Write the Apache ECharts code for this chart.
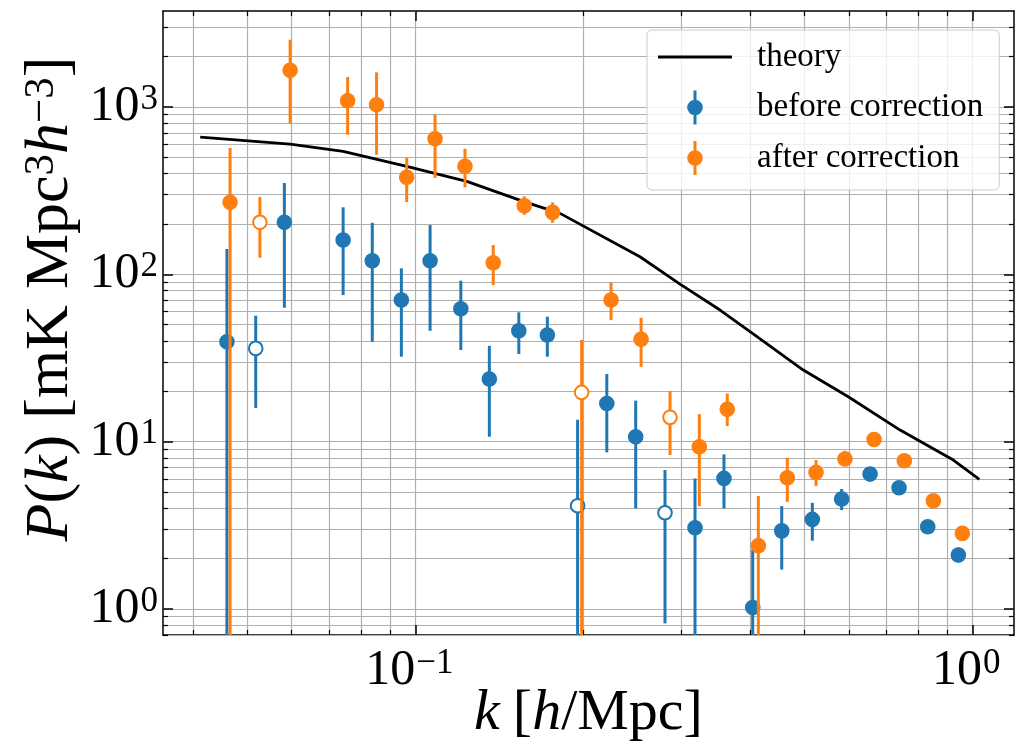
<!DOCTYPE html>
<html>
<head>
<meta charset="utf-8">
<script src="https://cdn.jsdelivr.net/npm/echarts@6/dist/echarts.min.js"></script>
<style>html,body{margin:0;padding:0;background:#fff}#c{width:1016px;height:754px}</style>
</head>
<body>
<div id="c"></div>
<script>
// ---- data (k in h/Mpc, P in mK Mpc^3 h^-3) ----
const kTheory = [0.0411, 0.0596, 0.0742, 0.0965, 0.1237, 0.1562, 0.1819, 0.2531, 0.2987, 0.3524, 0.399, 0.4972, 0.5988, 0.7418, 0.9245, 1.0294];
const pTheory = [661.7, 600.9, 543.4, 442.1, 359.7, 273.1, 231.5, 127.4, 87.5, 61.2, 45.4, 26.8, 18.55, 11.73, 7.76, 5.95];

const kBefore = [0.0459, 0.0517, 0.0582, 0.0742, 0.0837, 0.0944, 0.1063, 0.1207, 0.1358, 0.1534, 0.1726, 0.1956, 0.2207, 0.2487, 0.2807, 0.3178, 0.3582, 0.4034, 0.4548, 0.5161, 0.5826, 0.6553, 0.7386, 0.8317, 0.9438];
const pBefore = [39.5, 36.1, 204.6, 160.3, 120.6, 70.2, 120.6, 62.3, 23.7, 46.0, 43.4, 4.14, 16.9, 10.7, 3.76, 3.06, 6.03, 1.02, 2.93, 3.43, 4.54, 6.40, 5.30, 3.10, 2.10];
const pBeforeLo = [0, 15.9, 63.2, 75.2, 39.5, 32.2, 46.0, 35.3, 10.7, 33.4, 32.2, 0, 8.63, 3.99, 0.82, 0, 3.99, 0, 1.72, 2.56, 3.90, 6.0, 5.0, 2.9, 1.9];
const pBeforeHi = [141.6, 56.6, 351.4, 251.5, 203.4, 108.6, 197.1, 91.6, 37.4, 59.3, 55.8, 13.5, 25.4, 17.6, 6.77, 6.03, 8.40, 2.25, 4.12, 4.31, 5.21, 6.8, 5.6, 3.3, 2.33];
const openBefore = [0, 1, 0, 0, 0, 0, 0, 0, 0, 0, 0, 1, 0, 0, 1, 0, 0, 0, 0, 0, 0, 0, 0, 0, 0];

const kAfter = [0.0465, 0.0526, 0.0596, 0.0756, 0.0852, 0.0965, 0.1085, 0.1228, 0.1380, 0.1569, 0.1764, 0.1989, 0.2246, 0.2543, 0.2866, 0.3235, 0.3631, 0.4129, 0.4654, 0.5241, 0.5906, 0.6662, 0.7550, 0.8512, 0.9595];
const pAfter = [269.4, 204.6, 1657, 1091, 1032, 380, 646.5, 442, 117.3, 257, 234.7, 19.7, 70.2, 40.9, 13.97, 9.32, 15.6, 2.39, 6.08, 6.55, 7.87, 10.3, 7.69, 4.43, 2.83];
const pAfterLo = [0, 125.7, 794.8, 683, 518.7, 270.5, 376.4, 331, 86.3, 227, 203.4, 0, 53.3, 28.0, 8.32, 4.12, 12.4, 0, 4.37, 5.43, 7.42, 9.9, 7.4, 4.2, 2.7];
const pAfterHi = [568.8, 289.7, 2525, 1511, 1612, 495.7, 899.5, 563.4, 149.7, 292.5, 269.4, 40.5, 89.1, 55.0, 20.1, 14.6, 19.4, 4.73, 8.01, 7.76, 8.82, 10.7, 8.0, 4.6, 2.95];
const openAfter = [0, 1, 0, 0, 0, 0, 0, 0, 0, 0, 0, 1, 0, 0, 1, 0, 0, 0, 0, 0, 0, 0, 0, 0, 0];

// axis ranges and tick values
const xRange = [0.03524, 1.188];
const yRange = [0.699, 3750];
const xMajorTicks = [0.1, 1];
const yMajorTicks = [1, 10, 100, 1000];
const minorMultipliers = [2, 3, 4, 5, 6, 7, 8, 9];

// ---- build ----
const L = Math.log10;
const xMin = L(xRange[0]), xMax = L(xRange[1]);
const yMin = L(yRange[0]), yMax = L(yRange[1]);
const GRID = {left: 163, right: 2, top: 11, bottom: 119, outerBoundsMode: 'none', containLabel: false};
const gridH = 754 - GRID.top - GRID.bottom;
const gridW = 1016 - GRID.left - GRID.right;

function minorOf(lo, hi) {
  const out = [];
  for (let e = Math.floor(lo) - 1; e <= Math.ceil(hi); e++) {
    minorMultipliers.forEach(m => {
      const v = e + L(m);
      if (v > lo + 1e-6 && v < hi - 1e-6) out.push(v);
    });
  }
  return out;
}
const xMaj = xMajorTicks.map(L), yMaj = yMajorTicks.map(L);
const xMin_ = minorOf(xMin, xMax), yMin_ = minorOf(yMin, yMax);
const xAll = xMaj.concat(xMin_), yAll = yMaj.concat(yMin_);

const FONT = 'Liberation Serif';
const tickRich = {
  b: {fontFamily: FONT, fontSize: 50, lineHeight: 50, color: '#000', verticalAlign: 'bottom'},
  s: {fontFamily: FONT, fontSize: 35, lineHeight: 35, color: '#000', padding: [0, 0, 22, 1], verticalAlign: 'top'}
};
function nameRich(size, gap) {
  return {
    i: {fontFamily: FONT, fontSize: size, lineHeight: size, fontStyle: 'italic', color: '#000', verticalAlign: 'bottom'},
    n: {fontFamily: FONT, fontSize: size, lineHeight: size, color: '#000', verticalAlign: 'bottom'},
    g: {fontFamily: FONT, fontSize: size, lineHeight: size, width: gap},
    s: {fontFamily: FONT, fontSize: Math.round(size * 0.69), lineHeight: Math.round(size * 0.69), color: '#000',
        padding: [0, 0, Math.round(size * 0.41), 0], verticalAlign: 'top'}
  };
}
function powLabel(v) {
  const e = Math.round(v);
  return '{b|10}{s|' + (e < 0 ? '\u2212' + (-e) : e) + '}';
}

function baseAxis(pos, min, max, extra) {
  return Object.assign({
    type: 'value', gridIndex: 0, position: pos, min: min, max: max,
    splitLine: {show: false},
    axisLabel: {show: false},
    axisTick: {show: false},
    axisLine: {show: false, onZero: false}
  }, extra);
}
function tickSet(vals, len, color, width) {
  return {show: true, inside: true, length: len, customValues: vals, lineStyle: {color: color, width: width}};
}
const frameLine = {show: true, onZero: false, lineStyle: {color: '#000', width: 1.5}};

const xAxes = [
  baseAxis('bottom', xMin, xMax, {axisTick: tickSet(xAll, gridH, '#b0b0b0', 1.2)}),
  baseAxis('bottom', xMin, xMax, {axisTick: tickSet(xMin_, 5, '#000', 1.2)}),
  baseAxis('top', xMin, xMax, {axisTick: tickSet(xMin_, 5, '#000', 1.2)}),
  baseAxis('top', xMin, xMax, {axisLine: frameLine, axisTick: tickSet(xMaj, 10, '#000', 1.5)}),
  baseAxis('bottom', xMin, xMax, {
    axisLine: frameLine,
    axisTick: tickSet(xMaj, 10, '#000', 1.5),
    axisLabel: {show: true, customValues: xMaj, margin: 11, formatter: powLabel, rich: tickRich, padding: [0, 12, 0, 0]},
    name: '{i|k}{g|}{n|[}{i|h}{n|/Mpc]}',
    nameLocation: 'middle', nameGap: 50, nameMoveOverlap: false,
    nameTextStyle: {rich: nameRich(58, 13)}
  })
];
const yAxes = [
  baseAxis('left', yMin, yMax, {axisTick: tickSet(yAll, gridW, '#b0b0b0', 1.2)}),
  baseAxis('left', yMin, yMax, {axisTick: tickSet(yMin_, 5, '#000', 1.2)}),
  baseAxis('right', yMin, yMax, {axisTick: tickSet(yMin_, 5, '#000', 1.2)}),
  baseAxis('right', yMin, yMax, {axisLine: frameLine, axisTick: tickSet(yMaj, 10, '#000', 1.5)}),
  baseAxis('left', yMin, yMax, {
    axisLine: frameLine,
    axisTick: tickSet(yMaj, 10, '#000', 1.5),
    axisLabel: {show: true, customValues: yMaj, margin: 5, formatter: powLabel, rich: tickRich},
    name: '{i|P}{n|(}{i|k}{n|)}{g|}{n|[mK}{g|}{n|Mpc}{s|3}{i|h}{s|\u22123}{n|]}',
    nameLocation: 'middle', nameGap: 81, nameRotate: 90, nameMoveOverlap: false,
    nameTextStyle: {rich: nameRich(62, 16), padding: [0, 0, 0, 48]}
  })
];

function errData(k, p, lo, hi, open) {
  return k.map((kv, i) => [L(kv), L(p[i]), lo[i] > 0 ? L(lo[i]) : yMin - 2, L(hi[i]), open[i]]);
}
function renderErr(color) {
  return function (params, api) {
    const c = api.coord([api.value(0), api.value(1)]);
    const cl = api.coord([api.value(0), api.value(2)]);
    const ch = api.coord([api.value(0), api.value(3)]);
    const open = api.value(4) > 0.5;
    return {
      type: 'group',
      children: [
        {type: 'line', shape: {x1: c[0], y1: cl[1], x2: c[0], y2: ch[1]}, style: {stroke: color, lineWidth: 3}},
        {type: 'circle', shape: {cx: c[0], cy: c[1], r: open ? 6.8 : 7.8},
         style: {fill: open ? '#ffffff' : color, stroke: open ? color : null, lineWidth: open ? 2 : 0}}
      ]
    };
  };
}
const BLUE = '#1f77b4', ORANGE = '#ff7f0e';
const markerIcon = 'path://M0,17 L0.01,17 L0.01,17.01 Z M74,17 L73.99,17 L73.99,17.01 Z ' +
  'M35.5,0 L38.5,0 L38.5,34 L35.5,34 Z M29.2,17 A7.8,7.8 0 1,1 44.8,17 A7.8,7.8 0 1,1 29.2,17 Z';
const lineIcon = 'path://M37,0 L37.01,0 L37.01,0.01 Z M37,34 L37.01,34 L37.01,33.99 Z M0,15.6 L74,15.6 L74,18.4 L0,18.4 Z';

const option = {
  animation: false,
  backgroundColor: '#ffffff',
  grid: GRID,
  xAxis: xAxes,
  yAxis: yAxes,
  legend: {
    left: 647, top: 30, orient: 'vertical', selectedMode: false,
    backgroundColor: 'rgba(255,255,255,0.8)', borderColor: '#cccccc', borderWidth: 1, borderRadius: 5,
    padding: [10, 16, 15, 11], itemWidth: 74, itemHeight: 34, itemGap: 16.5,
    textStyle: {fontFamily: FONT, fontSize: 33, color: '#000', padding: [0, 0, 0, 20]},
    data: [{name: 'theory', icon: lineIcon}, {name: 'before correction', icon: markerIcon}, {name: 'after correction', icon: markerIcon}]
  },
  series: [
    {
      name: 'theory', type: 'line', xAxisIndex: 4, yAxisIndex: 4, z: 2,
      data: kTheory.map((k, i) => [L(k), L(pTheory[i])]),
      symbol: 'none', lineStyle: {color: '#000', width: 2.8}, itemStyle: {color: '#000'}
    },
    {
      name: 'before correction', type: 'custom', xAxisIndex: 4, yAxisIndex: 4, z: 3, clip: true,
      itemStyle: {color: BLUE}, encode: {x: 0, y: 1},
      renderItem: renderErr(BLUE),
      data: errData(kBefore, pBefore, pBeforeLo, pBeforeHi, openBefore)
    },
    {
      name: 'after correction', type: 'custom', xAxisIndex: 4, yAxisIndex: 4, z: 4, clip: true,
      itemStyle: {color: ORANGE}, encode: {x: 0, y: 1},
      renderItem: renderErr(ORANGE),
      data: errData(kAfter, pAfter, pAfterLo, pAfterHi, openAfter)
    }
  ]
};
const chart = echarts.init(document.getElementById('c'), null, {renderer: 'canvas'});
chart.setOption(option);
</script>
</body>
</html>
